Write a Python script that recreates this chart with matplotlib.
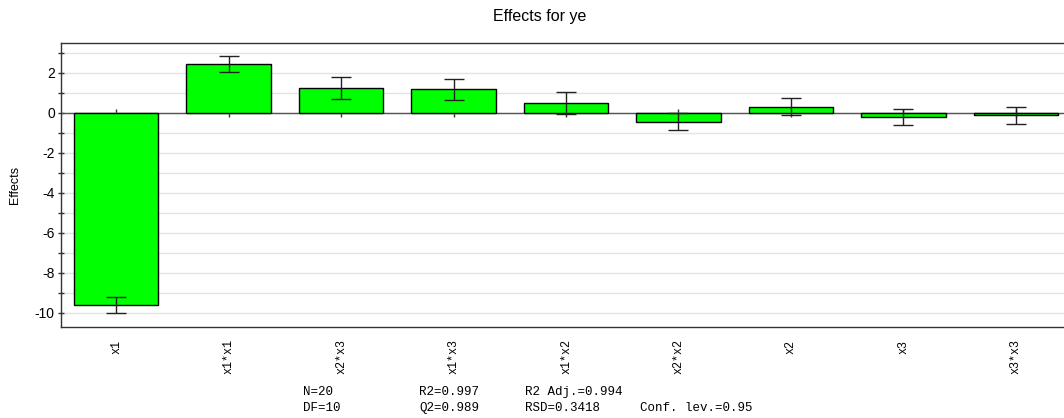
import matplotlib
matplotlib.use("Agg")
import matplotlib.pyplot as plt
from matplotlib.ticker import MultipleLocator

plt.rcParams['axes.unicode_minus'] = False
plt.rcParams['font.family'] = ['Liberation Sans', 'DejaVu Sans']

# coefficient effects with their confidence intervals
terms = ['x1', 'x1*x1', 'x2*x3', 'x1*x3', 'x1*x2', 'x2*x2', 'x2', 'x3', 'x3*x3']
effects = [-9.58, 2.45, 1.23, 1.18, 0.50, -0.43, 0.32, -0.18, -0.12]
conf_int = [0.40, 0.40, 0.55, 0.52, 0.55, 0.42, 0.42, 0.40, 0.43]

# model summary
stats_row1 = ['N=20', 'R2=0.997', 'R2 Adj.=0.994', '']
stats_row2 = ['DF=10', 'Q2=0.989', 'RSD=0.3418', 'Conf. lev.=0.95']

W, H = 1064, 418
fig = plt.figure(figsize=(W / 100, H / 100), dpi=100)
ax = fig.add_axes([61 / W, 1 - 327 / H, 1010 / W, 284 / H])

pos = list(range(len(terms)))
ax.bar(pos, effects, width=0.75, color='#00ff00', edgecolor='black',
       linewidth=1.0, zorder=3)
ax.errorbar(pos, effects, yerr=conf_int, fmt='none', ecolor='#222222',
            elinewidth=1.0, capsize=7, capthick=1.0, zorder=4)
ax.axhline(0, color='#555555', linewidth=1.0, zorder=2.5)

ax.set_xlim(-0.49, 8.49)
ax.set_ylim(-10.7, 3.5)
ax.yaxis.set_major_locator(MultipleLocator(2))
ax.yaxis.set_minor_locator(MultipleLocator(1))
ax.grid(True, which='both', axis='y', color='#e4e4e4', linewidth=1.0, zorder=0)
ax.tick_params(axis='y', which='both', direction='inout', length=5,
               width=1, color='#333333', labelsize=10, pad=2)

ax.set_xticks(pos)
ax.set_xticklabels(terms, rotation=90, family='Liberation Mono', fontsize=8.5)
ax.tick_params(axis='x', length=0, pad=9)

for sp in ax.spines.values():
    sp.set_color('#333333')
    sp.set_linewidth(1.0)

# small ticks on the zero line at each term
zero = ax.secondary_xaxis(0, transform=ax.transData)
zero.set_xticks(pos)
zero.tick_params(direction='inout', length=6, width=1, color='#333333',
                 labelbottom=False, labeltop=False)
zero.spines['bottom'].set_visible(False)

ax.set_ylabel('Effects', fontsize=9, labelpad=10)
fig.text(540 / W, 1 - 16 / H, 'Effects for ye', ha='center', va='center',
         fontsize=11.5)

col_x = [303, 419, 525, 640]
for xp, a, b in zip(col_x, stats_row1, stats_row2):
    fig.text(xp / W, 1 - 392 / H, a, family='Liberation Mono', fontsize=9,
             ha='left', va='center')
    fig.text(xp / W, 1 - 408 / H, b, family='Liberation Mono', fontsize=9,
             ha='left', va='center')

fig.savefig('out.png', dpi=100)
